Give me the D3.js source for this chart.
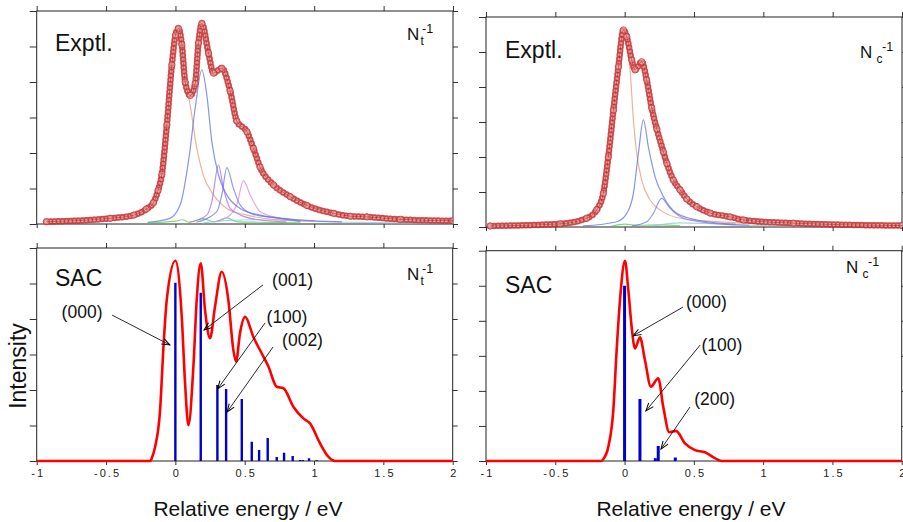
<!DOCTYPE html>
<html>
<head>
<meta charset="utf-8">
<script src="https://cdn.jsdelivr.net/npm/d3@7/dist/d3.min.js"></script>
<style>
  body { margin: 0; background: #fff; }
  svg { display: block; font-family: "Liberation Sans", Arial, sans-serif; }
</style>
</head>
<body>
<svg id="chart" width="903" height="522"></svg>
<script>
// ---- values: [relative energy (eV), intensity] ----
var energyTicks = [-1, -0.5, 0, 0.5, 1, 1.5, 2];
var intensityTicks = [0, 1, 2, 3, 4, 5, 6];

// N_t^-1, experiment (marker trace) and fitted components
var ntExptl = [[-0.93,0.065],[-0.47,0.16],[-0.3,0.25],[-0.21,0.42],[-0.159,0.6],[-0.125,0.95],[-0.098,1.4],
  [-0.062,2.79],[-0.026,4.48],[0,5.32],[0.022,5.51],[0.046,5.05],[0.07,4.0],[0.106,3.62],[0.142,3.96],
  [0.166,5.1],[0.19,5.65],[0.238,4.81],[0.274,4.25],[0.334,4.39],[0.394,3.75],[0.442,2.9],[0.515,2.6],
  [0.562,2.13],[0.61,1.6],[0.707,1.1],[0.827,0.77],[0.947,0.52],[1.14,0.3],[1.26,0.22],[1.38,0.2],
  [1.62,0.13],[2,0.09]];
var ntOrange = [[-0.3,0.2],[-0.2,0.45],[-0.13,0.95],[-0.09,2.0],[-0.05,3.45],[-0.02,4.9],[0.01,5.45],
  [0.035,5.0],[0.058,4.29],[0.106,3.35],[0.154,2.13],[0.2,1.38],[0.274,0.82],[0.37,0.44],[0.515,0.25],
  [0.7,0.13],[1.0,0.08]];
var ntBlue = [[-0.2,0.05],[-0.04,0.16],[0.034,0.54],[0.1,1.94],[0.142,3.26],[0.19,4.34],[0.226,3.63],
  [0.262,2.32],[0.31,1.38],[0.37,0.82],[0.466,0.44],[0.61,0.25],[0.83,0.14],[1.2,0.06]];
var ntPurple = [[0.1,0.05],[0.226,0.25],[0.262,0.63],[0.31,1.66],[0.346,1.0],[0.394,0.44],[0.47,0.25],
  [0.6,0.12],[0.8,0.06]];
var ntBlue2 = [[0.15,0.05],[0.298,0.35],[0.334,0.82],[0.37,1.59],[0.418,1.0],[0.466,0.54],[0.56,0.27],
  [0.71,0.18],[0.9,0.08]];
var ntMagenta = [[0.3,0.08],[0.394,0.25],[0.442,0.54],[0.49,1.22],[0.538,0.82],[0.61,0.35],[0.71,0.2],
  [0.9,0.08]];
var ntGreen = [[-0.2,0.03],[0.0,0.08],[0.05,0.12],[0.1,0.05],[0.2,0.15],[0.28,0.06],[0.37,0.17],
  [0.45,0.06],[0.6,0.05],[0.9,0.03]];
var ntCyan = [[0.2,0.03],[0.4,0.1],[0.6,0.12],[0.8,0.1],[1.0,0.07],[1.4,0.04],[2.0,0.02]];

// N_c^-1, experiment and fitted components
var ncExptl = [[-0.97,0.03],[-0.466,0.09],[-0.274,0.25],[-0.202,0.49],[-0.154,0.96],[-0.118,2.0],
  [-0.081,3.34],[-0.045,4.58],[-0.009,5.63],[0.015,5.44],[0.051,4.77],[0.075,4.49],[0.123,4.72],
  [0.159,4.2],[0.195,3.4],[0.232,2.8],[0.279,2.15],[0.304,1.82],[0.351,1.34],[0.4,1.06],[0.448,0.8],
  [0.52,0.58],[0.616,0.4],[0.76,0.29],[0.857,0.2],[1.217,0.11],[2,0.04]];
var ncOrange = [[-0.3,0.22],[-0.2,0.48],[-0.154,0.96],[-0.118,2.0],[-0.081,3.34],[-0.045,4.58],
  [-0.01,5.55],[0.039,4.49],[0.063,3.06],[0.087,2.1],[0.123,1.34],[0.183,0.77],[0.255,0.49],
  [0.4,0.25],[0.64,0.16],[1.0,0.08]];
var ncBlue = [[-0.3,0.03],[-0.057,0.15],[0.015,0.39],[0.063,0.96],[0.099,2.1],[0.135,3.06],[0.171,2.29],
  [0.219,1.44],[0.279,0.87],[0.376,0.39],[0.52,0.2],[0.8,0.08]];
var ncBlue2 = [[0.05,0.03],[0.159,0.15],[0.207,0.39],[0.267,0.82],[0.328,0.53],[0.424,0.25],[0.6,0.12],
  [0.9,0.05]];
var ncGreen = [[-0.1,0.02],[0.0,0.08],[0.1,0.05],[0.25,0.06],[0.4,0.03]];
var ncCyan = [[0.2,0.03],[0.4,0.12],[0.6,0.1],[0.9,0.05],[1.3,0.03]];

// SAC simulated spectra and the stick intensities
var ntSac = [[-1,0],[-0.18,0],[-0.17,0.08],[-0.146,0.4],[-0.11,1.44],[-0.087,3.13],[-0.062,4.54],[0,5.64],
  [0.046,4.07],[0.07,2.19],[0.094,1.01],[0.13,2.66],[0.154,4.54],[0.183,5.57],[0.214,4.25],[0.25,3.46],
  [0.286,4.35],[0.334,5.33],[0.382,4.54],[0.418,3.13],[0.438,2.8],[0.466,3.6],[0.503,4.06],[0.562,3.5],
  [0.635,2.94],[0.671,2.66],[0.731,2.09],[0.779,2.05],[0.851,1.53],[0.923,1.2],[0.971,1.06],[1.043,0.5],
  [1.103,0.12],[1.15,0],[2,0]];
var ntSticks = [[0,5.02],[0.183,4.74],[0.303,2.14],[0.366,2.03],[0.479,1.75],[0.551,0.54],[0.604,0.31],
  [0.666,0.65],[0.731,0.11],[0.784,0.23],[0.846,0.14],[0.899,0.03],[0.919,0.03],[0.964,0.08],[1.02,0.02]];
var ncSac = [[-1,0],[-0.17,0],[-0.154,0.05],[-0.117,0.41],[-0.081,1.46],[-0.057,3.17],[-0.033,4.59],
  [0.003,5.71],[0.027,4.88],[0.051,3.83],[0.075,3.21],[0.111,3.53],[0.147,2.88],[0.19,2.12],[0.243,2.36],
  [0.279,1.55],[0.323,0.82],[0.371,0.86],[0.436,0.5],[0.508,0.31],[0.58,0.25],[0.652,0.08],[0.7,0],[2,0]];
var ncSticks = [[0,5.0],[0.111,1.77],[0.222,0.08],[0.243,0.43],[0.366,0.1]];

// assignment labels (text centre and arrow ends, in data units)
var ntNotes = [
  {text:'(000)', at:[-0.673,4.2], from:[-0.456,4.11], to:[-0.04,3.27]},
  {text:'(001)', at:[0.845,5.1], from:[0.632,4.96], to:[0.207,3.69]},
  {text:'(100)', at:[0.805,4.06], from:[0.647,3.89], to:[0.305,2.03]},
  {text:'(002)', at:[0.917,3.41], from:[0.704,3.21], to:[0.373,1.38]}
];
var ncNotes = [
  {text:'(000)', at:[0.591,4.54], from:[0.421,4.39], to:[0.061,3.57]},
  {text:'(100)', at:[0.703,3.31], from:[0.546,3.31], to:[0.154,1.43]},
  {text:'(200)', at:[0.65,1.76], from:[0.472,1.54], to:[0.263,0.34]}
];

// ---- layout ----
var panels = [
  {id:'tl', x0:36.7, x1:453, y0:11, y1:224, tickLabels:false},
  {id:'tr', x0:486, x1:902, y0:17, y1:227, tickLabels:false},
  {id:'bl', x0:36.7, x1:452.7, y0:248, y1:461, tickLabels:true},
  {id:'br', x0:486, x1:901.7, y0:250.7, y1:461, tickLabels:true}
];

var svg = d3.select('#chart');
var defs = svg.append('defs');
defs.append('marker')
  .attr('id', 'arrow')
  .attr('viewBox', '-10 -5 12 10')
  .attr('refX', 0).attr('refY', 0)
  .attr('markerWidth', 12).attr('markerHeight', 10)
  .attr('markerUnits', 'userSpaceOnUse')
  .attr('orient', 'auto')
  .append('path')
  .attr('d', 'M-8,-3L0,0L-8,3')
  .attr('fill', 'none').attr('stroke', '#000').attr('stroke-width', 1);

var makePanel = function(p){
  var x = d3.scaleLinear().domain([-1, 2]).range([p.x0, p.x1]);
  var y = d3.scaleLinear().domain([0, 6]).range([p.y1, p.y0]);
  var g = svg.append('g').attr('class', 'panel-' + p.id);

  defs.append('clipPath').attr('id', 'clip-' + p.id)
    .append('rect')
    .attr('x', p.x0).attr('y', p.y0 - 4)
    .attr('width', p.x1 - p.x0).attr('height', p.y1 - p.y0 + 8);

  var styleAxis = function(sel){
    sel.select('.domain').remove();
    sel.selectAll('.tick line').attr('stroke', '#333').attr('stroke-width', 1);
  };
  g.append('g').attr('transform', 'translate(0,' + p.y1 + ')')
    .call(d3.axisBottom(x).tickValues(energyTicks).tickSize(4).tickSizeOuter(0).tickPadding(4)
      .tickFormat(p.tickLabels ? function(d){ return String(d); } : ''))
    .call(styleAxis)
    .selectAll('text')
    .attr('font-family', '"Liberation Sans", Arial, sans-serif')
    .attr('font-size', 11).attr('fill', '#222')
    .attr('letter-spacing', '2px').attr('dx', '1px');
  g.append('g').attr('transform', 'translate(0,' + p.y0 + ')')
    .call(d3.axisTop(x).tickValues(energyTicks).tickSize(5).tickSizeOuter(0).tickFormat(''))
    .call(styleAxis);
  g.append('g').attr('transform', 'translate(' + p.x0 + ',0)')
    .call(d3.axisLeft(y).tickValues(intensityTicks).tickSize(7).tickSizeOuter(0).tickFormat(''))
    .call(styleAxis);
  g.append('g').attr('transform', 'translate(' + p.x1 + ',0)')
    .call(d3.axisRight(y).tickValues(intensityTicks).tickSize(5).tickSizeOuter(0).tickFormat(''))
    .call(styleAxis);

  g.append('rect')
    .attr('x', p.x0).attr('y', p.y0)
    .attr('width', p.x1 - p.x0).attr('height', p.y1 - p.y0)
    .attr('fill', 'none').attr('stroke', '#222').attr('stroke-width', 1);

  var plot = g.append('g').attr('clip-path', 'url(#clip-' + p.id + ')');
  var line = d3.line()
    .x(function(d){ return x(d[0]); })
    .y(function(d){ return y(d[1]); })
    .curve(d3.curveMonotoneX);
  return {g: g, plot: plot, x: x, y: y, line: line};
};

// thin fitted component
var drawComponent = function(P, data, color){
  P.plot.append('path')
    .datum(data)
    .attr('d', P.line)
    .attr('fill', 'none')
    .attr('stroke', color)
    .attr('stroke-width', 1.2)
    .attr('stroke-opacity', 0.75);
};

// experimental trace drawn as a band of open circle markers
var drawExptl = function(P, data){
  P.plot.append('path').datum(data).attr('d', P.line)
    .attr('fill', 'none').attr('stroke', '#d85252')
    .attr('stroke-width', 6).attr('stroke-opacity', 0.55);
  P.plot.append('path').datum(data).attr('d', P.line)
    .attr('fill', 'none').attr('stroke', '#c02222')
    .attr('stroke-width', 6.5).attr('stroke-linecap', 'round')
    .attr('stroke-dasharray', '0 4').attr('stroke-opacity', 0.7);
  P.plot.append('path').datum(data).attr('d', P.line)
    .attr('fill', 'none').attr('stroke', '#f6cccc')
    .attr('stroke-width', 3).attr('stroke-linecap', 'round')
    .attr('stroke-dasharray', '0 4').attr('stroke-opacity', 0.8);
  P.plot.selectAll('circle.pt').data(data).join('circle')
    .attr('class', 'pt')
    .attr('cx', function(d){ return P.x(d[0]); })
    .attr('cy', function(d){ return P.y(d[1]); })
    .attr('r', 3.2)
    .attr('fill', '#f3b5b5').attr('fill-opacity', 0.5)
    .attr('stroke', '#c03030').attr('stroke-opacity', 0.75).attr('stroke-width', 1);
  P.plot.append('path').datum(data).attr('d', P.line)
    .attr('fill', 'none').attr('stroke', '#a01818')
    .attr('stroke-width', 0.9).attr('stroke-opacity', 0.6);
};

var drawSac = function(P, curve, sticks, stickWidth){
  P.plot.append('path').datum(curve).attr('d', P.line)
    .attr('fill', 'none').attr('stroke', '#ff0000')
    .attr('stroke-width', 2.6).attr('stroke-linejoin', 'round');
  P.plot.selectAll('line.stick').data(sticks).join('line')
    .attr('class', 'stick')
    .attr('x1', function(d){ return P.x(d[0]); })
    .attr('x2', function(d){ return P.x(d[0]); })
    .attr('y1', P.y(0))
    .attr('y2', function(d){ return P.y(d[1]); })
    .attr('stroke', '#0000cc').attr('stroke-width', stickWidth);
};

var drawNotes = function(P, notes){
  P.g.selectAll('line.note').data(notes).join('line')
    .attr('class', 'note')
    .attr('x1', function(d){ return P.x(d.from[0]); })
    .attr('y1', function(d){ return P.y(d.from[1]); })
    .attr('x2', function(d){ return P.x(d.to[0]); })
    .attr('y2', function(d){ return P.y(d.to[1]); })
    .attr('stroke', '#111').attr('stroke-width', 0.9)
    .attr('marker-end', 'url(#arrow)');
  P.g.selectAll('text.note').data(notes).join('text')
    .attr('class', 'note')
    .attr('x', function(d){ return P.x(d.at[0]); })
    .attr('y', function(d){ return P.y(d.at[1]); })
    .attr('text-anchor', 'middle').attr('dominant-baseline', 'central')
    .attr('font-size', 17.5).attr('fill', '#111')
    .text(function(d){ return d.text; });
};

// panel title (Exptl. / SAC) and ionisation label N_x^-1
var drawTitle = function(g, text, x, y){
  g.append('text').attr('x', x).attr('y', y)
    .attr('font-size', 23).attr('fill', '#111').text(text);
};
var drawIon = function(g, sub, x, y, subGap, supGap){
  g.append('text').attr('x', x).attr('y', y).attr('font-size', 17).attr('fill', '#111').text('N');
  g.append('text').attr('x', x + subGap).attr('y', y + 4.5).attr('font-size', 12).attr('fill', '#111').text(sub);
  g.append('text').attr('x', x + supGap).attr('y', y - 7.5).attr('font-size', 12.5).attr('fill', '#111').text('-1');
};

var TL = makePanel(panels[0]);
var TR = makePanel(panels[1]);
var BL = makePanel(panels[2]);
var BR = makePanel(panels[3]);

drawComponent(TL, ntGreen, '#4ccf4c');
drawComponent(TL, ntCyan, '#8cc6e6');
drawComponent(TL, ntOrange, '#e79a78');
drawComponent(TL, ntMagenta, '#d78ae6');
drawComponent(TL, ntPurple, '#a46ee6');
drawComponent(TL, ntBlue2, '#6f78e4');
drawComponent(TL, ntBlue, '#5f72dc');
drawExptl(TL, ntExptl);

drawComponent(TR, ncGreen, '#4ccf4c');
drawComponent(TR, ncCyan, '#8cc6e6');
drawComponent(TR, ncOrange, '#e79a78');
drawComponent(TR, ncBlue2, '#6f78e4');
drawComponent(TR, ncBlue, '#5f72dc');
drawExptl(TR, ncExptl);

drawSac(BL, ntSac, ntSticks, 2.4);
drawSac(BR, ncSac, ncSticks, 3);
drawNotes(BL, ntNotes);
drawNotes(BR, ncNotes);

drawTitle(TL.g, 'Exptl.', 55, 51);
drawTitle(TR.g, 'Exptl.', 505, 58);
drawTitle(BL.g, 'SAC', 55, 286);
drawTitle(BR.g, 'SAC', 505, 293);
drawIon(TL.g, 't', 407, 40, 13.5, 15);
drawIon(TR.g, 'c', 860, 58, 16.5, 22);
drawIon(BL.g, 't', 407, 280, 13.5, 15);
drawIon(BR.g, 'c', 846, 273, 16.5, 22);

// axis titles
svg.append('text')
  .attr('x', 248).attr('y', 516)
  .attr('text-anchor', 'middle').attr('font-size', 21).attr('fill', '#111')
  .text('Relative energy / eV');
svg.append('text')
  .attr('x', 691).attr('y', 516)
  .attr('text-anchor', 'middle').attr('font-size', 21).attr('fill', '#111')
  .text('Relative energy / eV');
svg.append('text')
  .attr('transform', 'translate(26,366) rotate(-90)')
  .attr('text-anchor', 'middle').attr('font-size', 23).attr('fill', '#111')
  .text('Intensity');
</script>
</body>
</html>
